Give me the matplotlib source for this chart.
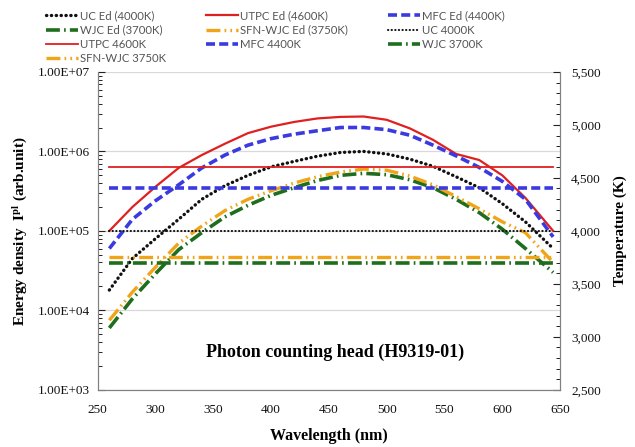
import math
import matplotlib
matplotlib.use("Agg")
import matplotlib.pyplot as plt
from matplotlib.ticker import FuncFormatter, LogLocator, MultipleLocator, NullFormatter

plt.rcParams['lines.scale_dashes'] = False
plt.rcParams['mathtext.fontset'] = 'stix'

# wavelength grid (nm)
wl = [260, 280, 300, 320, 340, 360, 380, 400, 420, 440,
      460, 480, 500, 520, 540, 560, 580, 600, 620, 644]

# energy density per lamp (arb. unit)
uc_ed = [1.8e4, 4.5e4, 8.0e4, 1.4e5, 2.5e5, 3.7e5, 5.0e5, 6.4e5, 7.5e5, 8.7e5,
         9.7e5, 1.0e6, 9.3e5, 8.0e5, 6.5e5, 4.8e5, 3.5e5, 2.2e5, 1.3e5, 6.0e4]
utpc_ed = [1.0e5, 2.0e5, 3.6e5, 6.2e5, 9.0e5, 1.25e6, 1.7e6, 2.05e6, 2.35e6, 2.6e6,
           2.72e6, 2.75e6, 2.5e6, 1.95e6, 1.4e6, 9.3e5, 7.8e5, 5.0e5, 2.6e5, 1.0e5]
mfc_ed = [6.0e4, 1.4e5, 2.4e5, 3.8e5, 6.2e5, 9.0e5, 1.2e6, 1.45e6, 1.65e6, 1.82e6,
          2.0e6, 2.0e6, 1.88e6, 1.6e6, 1.2e6, 8.8e5, 6.3e5, 4.2e5, 2.5e5, 8.4e4]
wjc_ed = [6.0e3, 1.4e4, 2.9e4, 5.8e4, 9.5e4, 1.5e5, 2.1e5, 2.8e5, 3.5e5, 4.3e5,
          5.0e5, 5.3e5, 5.1e5, 4.4e5, 3.5e5, 2.5e5, 1.7e5, 1.05e5, 6.0e4, 3.0e4]
sfn_ed = [7.5e3, 1.7e4, 3.5e4, 7.0e4, 1.15e5, 1.8e5, 2.5e5, 3.2e5, 4.0e5, 4.8e5,
          5.5e5, 6.0e5, 5.8e5, 4.9e5, 3.8e5, 2.7e5, 1.9e5, 1.3e5, 9.5e4, 4.0e4]

# colour temperature of each lamp (K)
t_uc = 4000
t_utpc = 4600
t_mfc = 4400
t_wjc = 3700
t_sfn = 3750

BLACK = '#111111'
RED = '#e02020'
BLUE = '#3a3ae0'
GREEN = '#1e6e1e'
ORANGE = '#f0a418'

dots = dict(dashes=(0.2, 3.3), dash_capstyle='round')
dash = dict(dashes=(6.5, 3.0))
dashdot = dict(dashes=(10, 3, 1.2, 3))
dashdotdot = dict(dashes=(10, 3, 1.2, 3, 1.2, 3))

fig = plt.figure(figsize=(6.35, 4.47), dpi=100)
ax = fig.add_axes([0.154, 0.128, 0.728, 0.711])
ax2 = ax.twinx()

l1, = ax.plot(wl, uc_ed, color=BLACK, lw=2.4, **dots)
l2, = ax.plot(wl, utpc_ed, color=RED, lw=1.6)
l3, = ax.plot(wl, mfc_ed, color=BLUE, lw=2.6, **dash)
l4, = ax.plot(wl, wjc_ed, color=GREEN, lw=2.6, **dashdot)
l5, = ax.plot(wl, sfn_ed, color=ORANGE, lw=2.4, **dashdotdot)

ends = [wl[0], wl[-1]]
h1, = ax2.plot(ends, [t_uc] * 2, color=BLACK, lw=1.5, dashes=(0.2, 2.4), dash_capstyle='round')
h2, = ax2.plot(ends, [t_utpc] * 2, color=RED, lw=1.3)
h3, = ax2.plot(ends, [t_mfc] * 2, color=BLUE, lw=2.6, **dash)
h4, = ax2.plot(ends, [t_wjc] * 2, color=GREEN, lw=2.6, **dashdot)
h5, = ax2.plot(ends, [t_sfn] * 2, color=ORANGE, lw=2.4, **dashdotdot)

ax.set_yscale('log')
ax.set_ylim(1e3, 1e7)
ax.set_xlim(250, 650)
ax2.set_ylim(2500, 5500)

serif = 'Liberation Serif'
ax.yaxis.set_major_locator(LogLocator(base=10, numticks=10))
ax.yaxis.set_minor_locator(LogLocator(base=10, subs=range(2, 10), numticks=10))
ax.yaxis.set_minor_formatter(NullFormatter())
ax.yaxis.set_major_formatter(FuncFormatter(lambda v, p: '1.00E+%02d' % round(math.log10(v))))
ax.xaxis.set_major_locator(MultipleLocator(50))
ax2.yaxis.set_major_locator(MultipleLocator(500))
ax2.yaxis.set_minor_locator(MultipleLocator(100))
ax2.yaxis.set_major_formatter(FuncFormatter(lambda v, p: '{:,.0f}'.format(v)))

ax.grid(axis='y', which='major', color='#d9d9d9', lw=0.9)
ax.set_axisbelow(True)

for a in (ax, ax2):
    a.tick_params(labelsize=9.5, colors='#222222', labelcolor='#111111')
    for lab in a.get_xticklabels() + a.get_yticklabels():
        lab.set_fontfamily(serif)
    for s in a.spines.values():
        s.set_color('#808080')
    a.spines['top'].set_visible(False)
ax.tick_params(axis='x', length=0, pad=10)
ax.tick_params(axis='y', which='major', direction='in', length=5, pad=6)
ax.tick_params(axis='y', which='minor', direction='in', length=3)
ax2.tick_params(axis='y', which='major', direction='in', length=5, pad=8)
ax2.tick_params(axis='y', which='minor', direction='in', length=3)

ax.set_xlabel('Wavelength (nm)', fontfamily=serif, fontweight='bold', fontsize=11.5, labelpad=9)
ax.set_ylabel(r'Energy density  I$^{\mathbf{pl}}$ (arb.unit)', fontfamily=serif,
              fontweight='bold', fontsize=11, labelpad=6)
ax2.set_ylabel('Temperature (K)', fontfamily=serif, fontweight='bold', fontsize=11, labelpad=9)

ax.text(455, 3.0e3, 'Photon counting head (H9319-01)', fontfamily=serif,
        fontweight='bold', fontsize=13, ha='center', va='center')

handles = [l1, l4, h2, h5, l2, l5, h3, l3, h1, h4]
labels = ['UC Ed (4000K)', 'WJC Ed (3700K)', 'UTPC 4600K', 'SFN-WJC 3750K',
          'UTPC Ed (4600K)', 'SFN-WJC Ed (3750K)', 'MFC 4400K',
          'MFC Ed (4400K)', 'UC 4000K', 'WJC 3700K']
leg = fig.legend(handles, labels, loc='upper left', bbox_to_anchor=(0.06, 0.995), ncol=3,
                 frameon=False, prop={'family': 'Lato', 'size': 8.2}, handlelength=2.8,
                 handletextpad=0.2, columnspacing=3.5, labelspacing=0.3, borderpad=0.2)
for t in leg.get_texts():
    t.set_color('#555555')

fig.savefig('out.png', dpi=100)
